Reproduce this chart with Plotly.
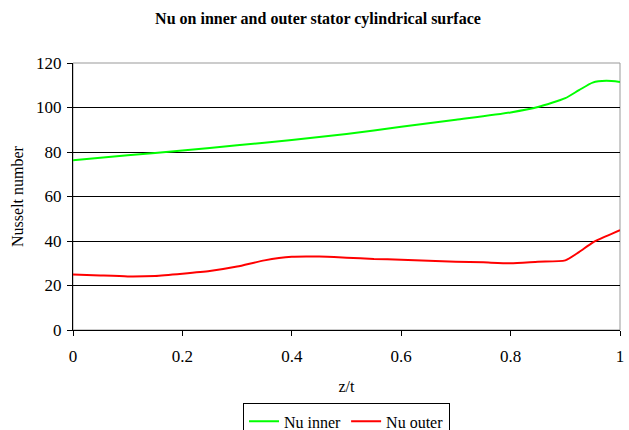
import plotly.graph_objects as go

z_inner = [0.0, 0.1, 0.2, 0.3, 0.4, 0.5, 0.6, 0.7, 0.8, 0.85, 0.9, 0.925, 0.95, 0.975, 1.0]
nu_inner = [76.3, 78.5, 80.7, 83.0, 85.4, 88.1, 91.3, 94.5, 97.8, 100.2, 104.2, 107.8, 111.2, 112.0, 111.5]

z_outer = [0.0, 0.05, 0.1, 0.15, 0.2, 0.25, 0.3, 0.35, 0.4, 0.45, 0.5, 0.55, 0.6, 0.65, 0.7, 0.75, 0.8, 0.85, 0.9, 0.925, 0.95, 0.975, 1.0]
nu_outer = [25.0, 24.5, 24.1, 24.3, 25.3, 26.5, 28.5, 31.3, 32.9, 33.0, 32.5, 31.9, 31.6, 31.1, 30.7, 30.4, 30.0, 30.7, 31.3, 35.0, 39.3, 42.2, 44.9]

x_ticks = [0, 0.2, 0.4, 0.6, 0.8, 1]
x_tick_labels = ["0", "0.2", "0.4", "0.6", "0.8", "1"]
y_ticks = [0, 20, 40, 60, 80, 100, 120]

font = "Liberation Serif"

fig = go.Figure()
fig.add_trace(go.Scatter(x=z_inner, y=nu_inner, mode="lines", name="Nu inner",
                         line=dict(color="#00FF00", width=2, shape="spline", smoothing=0.6)))
fig.add_trace(go.Scatter(x=z_outer, y=nu_outer, mode="lines", name="Nu outer",
                         line=dict(color="#FF0000", width=2, shape="spline", smoothing=0.6)))

fig.update_layout(
    width=629, height=430,
    margin=dict(l=73, r=9, t=63, b=100, autoexpand=False),
    paper_bgcolor="white", plot_bgcolor="white",
    font=dict(family=font, size=16, color="black"),
    title=dict(text="<b>Nu on inner and outer stator cylindrical surface</b>",
               x=318 / 629, xanchor="center", y=1 - 18 / 430, yanchor="middle",
               font=dict(family=font, size=16, color="black")),
    showlegend=True,
    legend=dict(orientation="h", x=0.5, xanchor="center", y=-0.275, yanchor="top",
                bordercolor="black", borderwidth=1, bgcolor="white",
                font=dict(family=font, size=16), tracegroupgap=0,
                itemwidth=30, traceorder="normal"),
    shapes=[dict(type="rect", xref="paper", yref="paper", x0=0, x1=1, y0=0, y1=1,
                 line=dict(color="#999999", width=1), layer="below")],
)
fig.update_xaxes(range=[0, 1], tickvals=x_ticks, ticktext=x_tick_labels,
                 showgrid=False, zeroline=False, showline=True, linecolor="black", linewidth=1,
                 ticks="outside", ticklen=5, tickcolor="black", ticklabelstandoff=6,
                 tickfont=dict(family=font, size=17),
                 title=dict(text="z/t", standoff=15, font=dict(family=font, size=16)))
fig.update_yaxes(range=[0, 120], tickvals=y_ticks,
                 showgrid=True, gridcolor="black", gridwidth=1, zeroline=False,
                 showline=True, linecolor="black", linewidth=1,
                 ticks="outside", ticklen=5, tickcolor="black", ticklabelstandoff=2,
                 tickfont=dict(family=font, size=17),
                 title=dict(text="Nusselt number", standoff=8, font=dict(family=font, size=16)))

fig.write_html("out.html")
